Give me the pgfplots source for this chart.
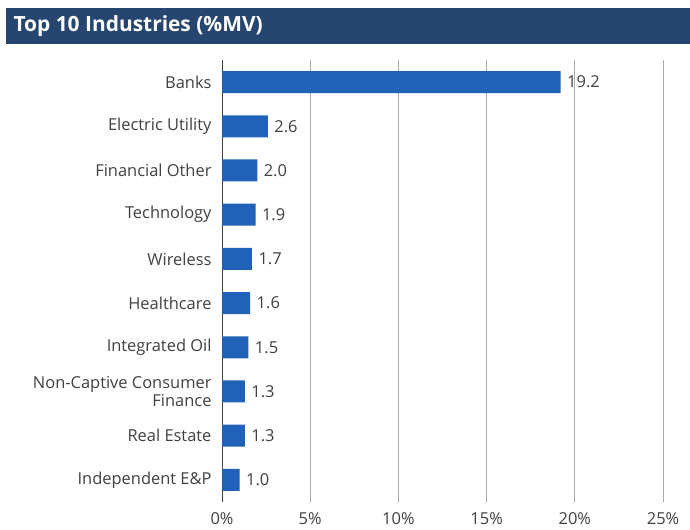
\documentclass[border=0pt]{standalone}
\usepackage{pgfplots}
\pgfplotsset{compat=1.18}
\usepackage{fontspec}
\setmainfont{Open Sans}
\definecolor{barblue}{RGB}{31,98,183}
\definecolor{titlebg}{RGB}{38,70,112}
\definecolor{txt}{RGB}{64,64,64}
\definecolor{gridc}{RGB}{170,170,170}
\begin{document}
\begin{tikzpicture}[x=1bp,y=1bp]
\path[use as bounding box] (0,0) rectangle (690,530);
\fill[titlebg] (6,486) rectangle (690,522);
\node[anchor=west,text=white,font=\fontsize{21}{24}\selectfont\bfseries] at (10,504) {Top 10 Industries (\%MV)};
\begin{axis}[
  at={(222bp,28bp)}, anchor=south west,
  scale only axis, width=441bp, height=442bp,
  xbar, bar width=22bp,
  xmin=0, xmax=25,
  ymin=-0.5, ymax=9.5, y dir=reverse,
  ytick={0,...,9},
  yticklabels={Banks,Electric Utility,Financial Other,Technology,Wireless,Healthcare,Integrated Oil,{Non-Captive Consumer\\Finance},Real Estate,Independent E\&P},
  yticklabel style={align=right,text=txt,font=\fontsize{16.5}{18}\selectfont, xshift=-7bp},
  xtick={0,5,10,15,20,25},
  xticklabels={0\%,5\%,10\%,15\%,20\%,25\%},
  xticklabel style={text=txt,font=\fontsize{16.5}{18}\selectfont, yshift=-7bp},
  major tick length=0pt,
  xmajorgrids, grid style={gridc, line width=0.8bp},
  axis x line*=bottom,
  axis y line*=left,
  x axis line style={draw=none},
  y axis line style={draw=txt, line width=0.8bp,-},
  nodes near coords,
  nodes near coords style={text=txt,xshift=3bp,font=\fontsize{16.5}{18}\selectfont,/pgf/number format/.cd,fixed,fixed zerofill,precision=1,assume math mode=true},
  point meta=x,
  clip=false,
]
\addplot[fill=barblue, draw=none] coordinates {
(19.2,0) (2.6,1) (2.0,2) (1.9,3) (1.7,4) (1.6,5) (1.5,6) (1.3,7) (1.3,8) (1.0,9)
};
\end{axis}
\end{tikzpicture}
\end{document}
